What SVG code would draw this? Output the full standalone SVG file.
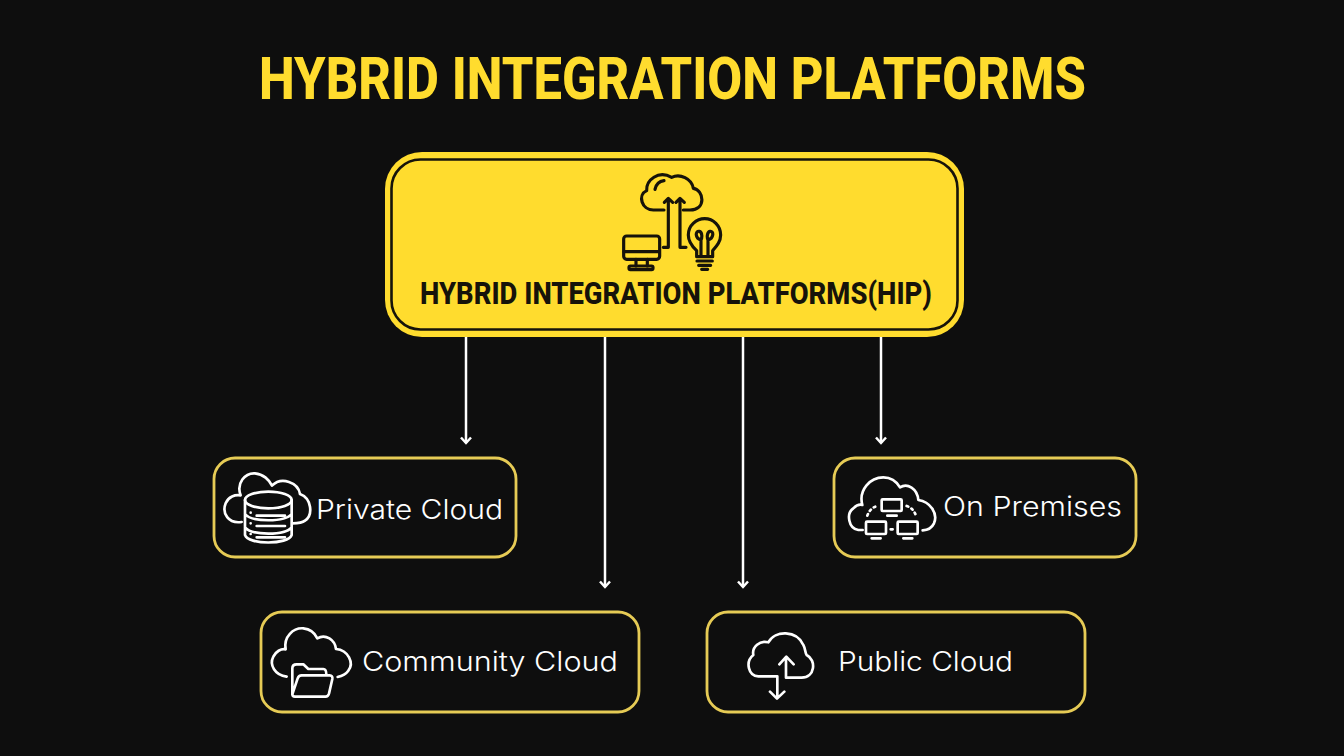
<svg xmlns="http://www.w3.org/2000/svg" width="1344" height="756" viewBox="0 0 1344 756">
<style>
.hd{font-family:"Roboto","Liberation Sans",sans-serif;font-weight:800}
.lb{font-family:"Inter","Open Sans",sans-serif;font-weight:300;font-size:27.5px;fill:#fff}
.bx{fill:#0e0e0e;stroke:#e6cb55;stroke-width:2.800}
.ic{fill:none;stroke:#fff;stroke-width:8;stroke-linecap:round;stroke-linejoin:round}
.id{fill:none;stroke:#16130a;stroke-width:9.500;stroke-linecap:round;stroke-linejoin:round}
.cn{fill:none;stroke:#fff;stroke-width:2.500}
</style>
<defs>
<marker id="ah" markerWidth="14" markerHeight="14" refX="10" refY="7" orient="auto" markerUnits="userSpaceOnUse"><path d="M4.500 2L10 7L4.500 12" fill="none" stroke="#fff" stroke-width="2.500"/></marker>
</defs>
<rect width="1344" height="756" fill="#0e0e0e"/>
<text id="title" class="hd" x="259" y="99" font-size="59" fill="#ffdc2e" textLength="827" lengthAdjust="spacingAndGlyphs">HYBRID INTEGRATION PLATFORMS</text>
<g id="connectors">
<path class="cn" d="M466 337V443" marker-end="url(#ah)"/>
<path class="cn" d="M605 337V587" marker-end="url(#ah)"/>
<path class="cn" d="M743 337V587" marker-end="url(#ah)"/>
<path class="cn" d="M881 337V443" marker-end="url(#ah)"/>
</g>
<g id="node-hip">
<rect x="385" y="152" width="579" height="185" rx="37" fill="#ffdc2e"/>
<rect x="391.500" y="159.500" width="566" height="170" rx="29" fill="none" stroke="#16130a" stroke-width="2.600"/>
<g transform="translate(600 160) scale(.3333)">
<path class="id" d="M192 150H160C125 150 112 105 140 92C138 60 175 30 215 52C240 40 275 55 280 85C312 90 320 150 270 150H250"/>
<path class="id" d="M165 88C168 74 178 64 192 62"/>
<path class="id" d="M190 262H205V116M193 127L205 115L218 127M258 262H240V116M228 127L240 115L253 127"/>
<rect class="id" x="71" y="228" width="108" height="70" rx="9"/>
<path class="id" d="M72 275H178M108 298V318M142 298V318"/>
<rect class="id" x="87" y="318" width="72" height="11" rx="4"/>
<path class="id" d="M290 290V272C275 258 265 245 265 225C265 195 290 176 314 176C340 176 362 197 362 225C362 245 350 258 338 272V290ZM291 303H337M296 316H332M305 328H323"/>
<path class="id" d="M303 285V240C285 235 285 212 298 214C308 216 306 235 303 240M324 285V240C342 235 342 212 330 214C320 216 321 235 324 240"/>
</g>
<text class="hd" x="420" y="303.500" font-size="31" fill="#16130a" textLength="512" lengthAdjust="spacingAndGlyphs">HYBRID INTEGRATION PLATFORMS(HIP)</text>
</g>
<g id="node-private">
<rect class="bx" x="214" y="458" width="302" height="99" rx="21"/>
<g transform="translate(210 450) scale(.3333)">
<path class="ic" d="M95 216C55 222 35 190 47 160C55 140 75 133 92 136C78 100 105 68 135 70C160 72 178 90 186 107C215 78 265 98 270 132C305 145 310 195 285 212C275 220 260 220 248 220"/>
<ellipse class="ic" cx="175" cy="150" rx="70" ry="25"/>
<path class="ic" d="M105 150V255C115 285 235 285 245 255V150M105 192C125 217 225 217 245 192M105 232C125 257 225 257 245 232"/>
<path class="ic" d="M122 188V188M140 197H225M122 220V220M140 228H225M122 252V252M140 262H225"/>
</g>
<text class="lb" x="316" y="519" textLength="187" lengthAdjust="spacingAndGlyphs">Private Cloud</text>
</g>
<g id="node-on-premises">
<rect class="bx" x="834" y="458" width="302" height="99" rx="21"/>
<g transform="translate(830 450) scale(.3333)">
<path class="ic" d="M98 240H85C55 235 48 190 70 175C80 165 88 162 97 165C85 120 120 82 160 82C185 82 200 95 210 112C232 98 262 115 265 150C300 155 325 190 312 220C305 235 295 240 278 241"/>
<rect class="ic" x="155" y="148" width="60" height="35" rx="3"/>
<rect class="ic" x="108" y="215" width="60" height="37" rx="3"/>
<rect class="ic" x="203" y="215" width="60" height="37" rx="3"/>
<path class="ic" d="M172 197H200M125 265H152M220 265H247M182 238H188"/>
<path class="ic" stroke-dasharray="5 11" d="M112 197C118 180 128 172 142 168M230 168C245 173 253 183 258 197"/>
</g>
<text class="lb" x="943" y="516" textLength="179" lengthAdjust="spacingAndGlyphs">On Premises</text>
</g>
<g id="node-community">
<rect class="bx" x="261" y="612" width="378" height="100" rx="21"/>
<g transform="translate(255 605) scale(.3333)">
<path class="ic" d="M95 215C60 210 42 180 55 155C62 140 78 130 92 133C85 95 115 68 145 70C165 72 180 85 187 100C212 85 240 105 243 132C280 135 298 175 280 197C272 208 260 213 248 216"/>
<path class="ic" d="M112 268V190C112 182 118 178 125 178H145L160 192H205C212 192 214 198 214 208M112 268C112 274 115 275 120 275H212C218 275 220 272 222 266L232 222C233 215 230 211 224 211H140C133 211 130 214 128 220L112 268"/>
</g>
<text class="lb" x="362" y="671" textLength="256" lengthAdjust="spacingAndGlyphs">Community Cloud</text>
</g>
<g id="node-public">
<rect class="bx" x="707" y="612" width="378" height="100" rx="21"/>
<g transform="translate(700 605) scale(.3333)">
<path class="ic" d="M232 214H175C145 214 135 170 160 150C155 125 180 105 205 112C225 75 290 75 310 120C318 135 315 145 320 150C350 165 345 218 305 218H258V156M238 178L259 155L281 178M232 214V278M210 260L231 281L253 260"/>
</g>
<text class="lb" x="838" y="671" textLength="175" lengthAdjust="spacingAndGlyphs">Public Cloud</text>
</g>
</svg>
